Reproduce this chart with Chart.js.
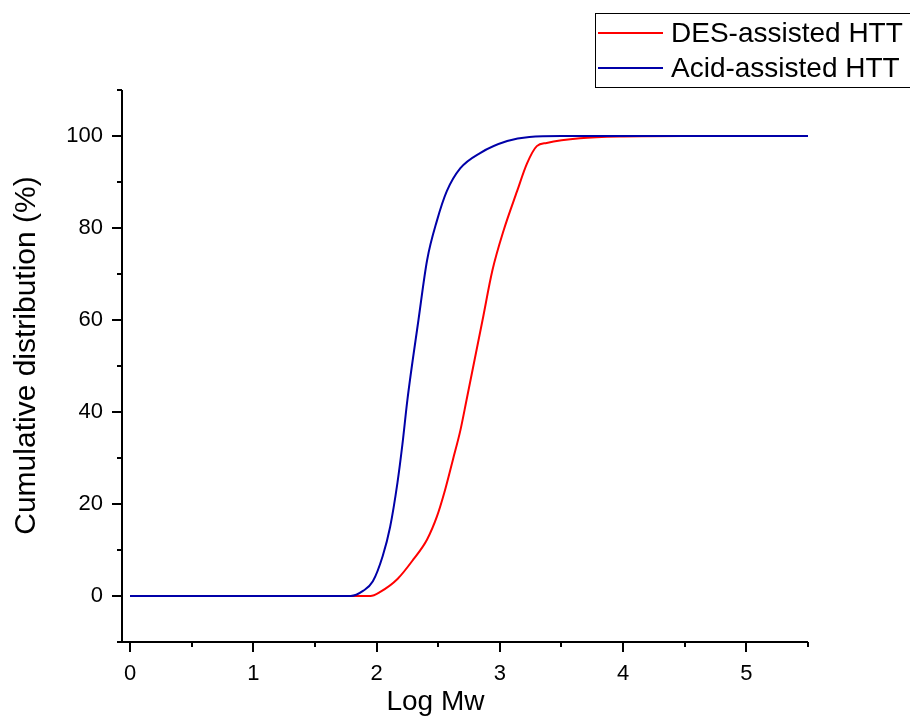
<!DOCTYPE html>
<html>
<head>
<meta charset="utf-8">
<script src="https://cdn.jsdelivr.net/npm/chart.js@4.4.1/dist/chart.umd.min.js"></script>
<style>
html,body{margin:0;padding:0;background:#fff;}
#wrap{width:910px;height:718px;}
</style>
</head>
<body>
<div id="wrap"><canvas id="c" width="910" height="718"></canvas></div>
<script>
// ---- data ----
const seriesNames = ["DES-assisted HTT", "Acid-assisted HTT"];
const xTitle = "Log Mw";
const yTitle = "Cumulative distribution (%)";
const desX = [0, 1.0, 1.95, 2.03, 2.17, 2.30, 2.41, 2.49, 2.55, 2.62, 2.68, 2.73, 2.86, 2.94, 3.03, 3.14, 3.22, 3.30, 3.38, 3.65, 4.0, 4.5, 5.5];
const desY = [0, 0, 0, 0.9, 3.7, 8.0, 12.3, 17.3, 22.5, 29.7, 36.0, 42.6, 60.0, 70.8, 79.4, 88.0, 94.0, 97.8, 98.5, 99.5, 99.9, 100, 100];
const acidX = [0, 1.0, 1.79, 1.89, 1.97, 2.05, 2.11, 2.17, 2.21, 2.25, 2.34, 2.41, 2.49, 2.57, 2.68, 2.84, 3.06, 3.24, 3.5, 4.5, 5.5];
const acidY = [0, 0, 0, 1.1, 3.2, 8.7, 15.0, 24.7, 33.0, 42.6, 60.0, 73.0, 81.6, 88.0, 93.0, 96.3, 98.9, 99.8, 100, 100, 100];
const xTicks = [0, 1, 2, 3, 4, 5];
const yTicks = [0, 20, 40, 60, 80, 100];
const xMinor = [0.5, 1.5, 2.5, 3.5, 4.5, 5.5];
const yMinor = [-10, 10, 30, 50, 70, 90, 110];
const colors = ["#ff0000", "#0000a8"];

const toPts = (xs, ys) => xs.map((x, i) => ({x: x, y: ys[i]}));
const FONT = "Arial, 'Liberation Sans', sans-serif";

const tickPlugin = {
  id: 'ticksDraw',
  afterDraw(chart) {
    const ctx = chart.ctx;
    const xs = chart.scales.x, ys = chart.scales.y;
    const a = chart.chartArea;
    ctx.save();
    ctx.strokeStyle = '#000';
    ctx.lineWidth = 2;
    ctx.lineCap = 'butt';
    // axis lines
    ctx.beginPath();
    ctx.moveTo(a.left, a.top); ctx.lineTo(a.left, a.bottom + 1);
    ctx.moveTo(a.left - 1, a.bottom); ctx.lineTo(a.right, a.bottom);
    ctx.stroke();
    ctx.beginPath();
    xTicks.forEach(v => { const p = Math.round(xs.getPixelForValue(v)); ctx.moveTo(p, a.bottom); ctx.lineTo(p, a.bottom + 10); });
    xMinor.forEach(v => { const p = Math.round(xs.getPixelForValue(v)); ctx.moveTo(p, a.bottom); ctx.lineTo(p, a.bottom + 5); });
    yTicks.forEach(v => { const p = Math.round(ys.getPixelForValue(v)); ctx.moveTo(a.left, p); ctx.lineTo(a.left - 10, p); });
    yMinor.forEach(v => { const p = Math.round(ys.getPixelForValue(v)); ctx.moveTo(a.left, p); ctx.lineTo(a.left - 5, p); });
    ctx.stroke();
    // axis titles
    ctx.fillStyle = '#000';
    ctx.font = "28px " + FONT;
    ctx.textAlign = 'center';
    ctx.textBaseline = 'alphabetic';
    ctx.fillText(xTitle, 435.5, 710);
    ctx.save();
    ctx.translate(35, 355.5);
    ctx.rotate(-Math.PI / 2);
    ctx.font = "30px " + FONT;
    ctx.fillText(yTitle, 0, 0);
    ctx.restore();
    // legend box
    const lx = 595, ly = 13, lw = 320, lh = 74;
    ctx.lineWidth = 1;
    ctx.strokeStyle = '#000';
    ctx.strokeRect(lx + 0.5, ly + 0.5, lw, lh);
    ctx.font = "28px " + FONT;
    ctx.textAlign = 'left';
    ctx.textBaseline = 'middle';
    seriesNames.forEach((n, i) => {
      const cy = 33 + i * 35;
      ctx.strokeStyle = colors[i];
      ctx.lineWidth = 2;
      ctx.beginPath(); ctx.moveTo(598, cy); ctx.lineTo(663, cy); ctx.stroke();
      ctx.fillText(n, 671, cy + 1);
    });
    ctx.restore();
  }
};

new Chart(document.getElementById('c'), {
  type: 'scatter',
  data: {
    datasets: [
      {label: seriesNames[0], data: toPts(desX, desY), showLine: true, borderColor: colors[0], backgroundColor: colors[0], borderWidth: 2, pointRadius: 0, cubicInterpolationMode: 'monotone', order: 2},
      {label: seriesNames[1], data: toPts(acidX, acidY), showLine: true, borderColor: colors[1], backgroundColor: colors[1], borderWidth: 2, pointRadius: 0, cubicInterpolationMode: 'monotone', order: 1}
    ]
  },
  options: {
    responsive: false,
    animation: false,
    devicePixelRatio: 1,
    layout: {padding: {top: 90, right: 102, left: 0, bottom: 0}},
    plugins: {legend: {display: false}, tooltip: {enabled: false}},
    scales: {
      x: {
        type: 'linear', min: -0.065, max: 5.5,
        afterBuildTicks: s => { s.ticks = xTicks.map(v => ({value: v})); },
        afterFit: s => { s.height = 76; },
        grid: {display: false, drawTicks: false},
        border: {display: false},
        ticks: {font: {family: FONT, size: 22}, color: '#000', padding: 19, maxRotation: 0},
        title: {display: false, text: xTitle}
      },
      y: {
        type: 'linear', min: -10, max: 110,
        afterBuildTicks: s => { s.ticks = yTicks.map(v => ({value: v})); },
        afterFit: s => { s.width = 122; },
        grid: {display: false, drawTicks: false},
        border: {display: false},
        ticks: {font: {family: FONT, size: 22}, color: '#000', padding: 19},
        title: {display: false, text: yTitle}
      }
    }
  },
  plugins: [tickPlugin]
});
</script>
</body>
</html>
